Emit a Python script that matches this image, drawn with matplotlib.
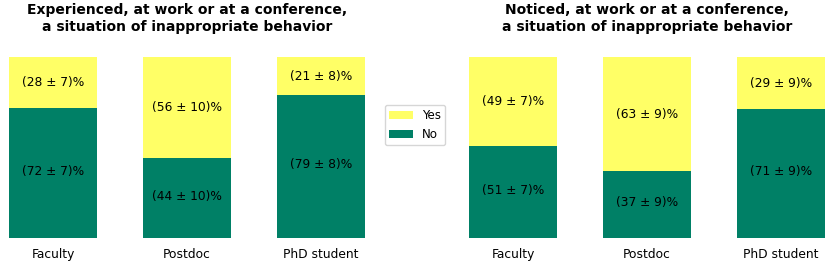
import matplotlib
matplotlib.use("Agg")
import matplotlib.pyplot as plt

categories = ["Faculty", "Postdoc", "PhD student"]
titles = ["Experienced, at work or at a conference,\na situation of inappropriate behavior",
          "Noticed, at work or at a conference,\na situation of inappropriate behavior"]
no_vals = [[72, 44, 79], [51, 37, 71]]
no_err = [[7, 10, 8], [7, 9, 9]]
yes_vals = [[28, 56, 21], [49, 63, 29]]
yes_err = [[7, 10, 8], [7, 9, 9]]

green = "#008066"
yellow = "#ffff66"

fig = plt.figure(figsize=(8.3, 2.65), dpi=100)
axes = [fig.add_axes([9/830, 27/265, 356/830, 181/265]),
        fig.add_axes([469/830, 27/265, 356/830, 181/265])]

for ax, title, nv, ne, yv, ye in zip(axes, titles, no_vals, no_err, yes_vals, yes_err):
    x = list(range(len(categories)))
    hn = ax.bar(x, nv, width=0.66, color=green, label="No")
    hy = ax.bar(x, yv, width=0.66, bottom=nv, color=yellow, label="Yes")
    for i in x:
        ax.text(i, nv[i] / 2 + 1, f"({nv[i]} \u00b1 {ne[i]})%", ha="center", va="center", fontsize=8.8)
        ax.text(i, nv[i] + yv[i] / 2, f"({yv[i]} \u00b1 {ye[i]})%", ha="center", va="center", fontsize=8.8)
    ax.set_xlim(-0.33, 2.33)
    ax.set_ylim(0, 100)
    ax.set_xticks(x)
    ax.set_xticklabels(categories, fontsize=8.8)
    ax.tick_params(axis="x", length=0, pad=7)
    ax.set_yticks([])
    for s in ax.spines.values():
        s.set_visible(False)
    ax.set_title(title, fontsize=10, fontweight="bold", pad=19)

fig.legend([hy, hn], ["Yes", "No"], loc="center", bbox_to_anchor=(415/830, 1 - 125/265),
           fontsize=8.6, handlelength=2.0, borderpad=0.35, frameon=True)

fig.savefig("out.png", dpi=100)
